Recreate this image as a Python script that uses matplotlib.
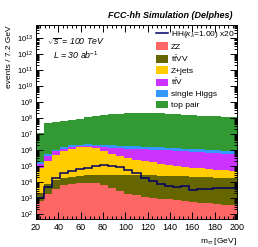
import numpy as np
import matplotlib
matplotlib.use("Agg")
import matplotlib.pyplot as plt
from matplotlib.ticker import LogLocator, MultipleLocator, LogFormatterMathtext, NullFormatter
from matplotlib.patches import Patch
from matplotlib.lines import Line2D

plt.rcParams['font.family'] = ['Liberation Sans', 'DejaVu Sans']
plt.rcParams['mathtext.fontset'] = 'custom'
plt.rcParams['mathtext.rm'] = 'Liberation Sans'
plt.rcParams['mathtext.it'] = 'Liberation Sans:italic'
plt.rcParams['mathtext.bf'] = 'Liberation Sans:bold'

# ---- data (events per 7.2 GeV bin, 20-200 GeV) ----
x_min, x_max, n_bins = 20.0, 200.0, 25
zz = [630, 1800, 4000, 6200, 7400, 8500, 9300, 9100, 6600, 4300, 2800, 1900, 1500,
      1200, 1050, 950, 830, 720, 650, 580, 510, 470, 430, 400, 370]
ttvv = [1600, 6200, 9200, 11600, 14000, 15500, 17000, 19000, 23000, 25000, 26000, 26000,
        26000, 25700, 25300, 24700, 24300, 23300, 22300, 21300, 20400, 19500, 18600, 17800, 17000]
zjets = [77000, 216000, 512000, 833000, 1.13e6, 1.46e6, 1.63e6, 1.29e6, 802000, 573000,
         388000, 288000, 224000, 177000, 144000, 116000, 95000, 81000, 68000, 59000,
         52000, 46000, 41000, 37000, 33000]
ttv = [52000, 223000, 366000, 408000, 401000, 299000, 246000, 420000, 647000, 778000,
       871000, 914000, 924000, 918000, 902000, 882000, 857000, 807000, 760000, 713000,
       669000, 626000, 571000, 534000, 487000]
single_h = [38000, 116000, 180000, 363000, 401000, 460000, 439000, 501000, 659000, 615000,
            617000, 589000, 563000, 538000, 513000, 490000, 435000, 406000, 408000, 381000,
            355000, 355000, 346000, 344000, 354000]
top_pair = [1.18e7, 4.62e7, 5.51e7, 6.45e7, 7.40e7, 8.69e7, 1.08e8, 1.30e8, 1.56e8, 1.76e8,
            1.84e8, 1.93e8, 1.98e8, 2.02e8, 2.02e8, 1.98e8, 1.89e8, 1.76e8, 1.64e8, 1.53e8,
            1.43e8, 1.34e8, 1.25e8, 1.16e8, 1.09e8]
hh_x20 = [1000, 4700, 17000, 35500, 48000, 63000, 79000, 95000, 112000, 100000, 83000,
          60000, 36000, 19000, 11000, 7900, 6000, 5200, 6000, 3300, 3800, 4000, 4100, 4200, 4400]

labels = ["ZZ", r"t$\bar{\rm t}$VV", "Z+jets", r"t$\bar{\rm t}$V", "single Higgs", "top pair"]
colors = ["#ff6666", "#666600", "#ffcc00", "#cc33ff", "#3399ff", "#339933"]
series = [zz, ttvv, zjets, ttv, single_h, top_pair]

edges = np.linspace(x_min, x_max, n_bins + 1)

fig = plt.figure(figsize=(2.58, 2.47), dpi=100)
ax = fig.add_axes([36/258, 1-219/247, 201/258, 194/247])

base = np.full(n_bins, 1.0)
for vals, col in zip(series, colors):
    top = base + np.asarray(vals, dtype=float)
    ax.stairs(top, edges, baseline=base, fill=True, color=col, linewidth=0)
    base = top
ax.stairs(hh_x20, edges, baseline=None, color="#000066", linewidth=1.1)

ax.set_yscale('log')
ax.set_xlim(x_min, x_max)
ax.set_ylim(50, 6.5e13)

ax.xaxis.set_major_locator(MultipleLocator(20))
ax.xaxis.set_minor_locator(MultipleLocator(4))
ax.yaxis.set_major_locator(LogLocator(base=10, numticks=20))
ax.yaxis.set_minor_locator(LogLocator(base=10, subs=np.arange(2, 10), numticks=20))
ax.yaxis.set_major_formatter(LogFormatterMathtext())
ax.yaxis.set_minor_formatter(NullFormatter())
ax.tick_params(which='both', direction='in', top=True, right=True, width=0.7, colors='black')
ax.tick_params(which='major', length=5)
ax.tick_params(which='minor', length=2.5)
ax.tick_params(axis='x', labelsize=6.5, pad=3)
ax.tick_params(axis='y', labelsize=5.5, pad=2)
for s in ax.spines.values():
    s.set_linewidth(0.7)

ax.set_ylabel("events / 7.2 GeV", fontsize=6, ha='right', y=1.0)
ax.yaxis.set_label_coords(-0.115, 1.0)
ax.set_xlabel(r"m$_{\tau\tau}$ [GeV]", fontsize=6, ha='right', x=1.0)
ax.xaxis.set_label_coords(1.0, -0.09)

fig.text(232/258, 1-16/247, "FCC-hh Simulation (Delphes)", fontsize=6.5, fontweight='bold',
         style='italic', ha='right', va='center')
ax.text(47/258, 1-42/247, r"$\sqrt{s}$ = 100 TeV", transform=fig.transFigure,
        fontsize=6.3, style='italic', ha='left', va='center')
ax.text(53/258, 1-55/247, r"L = 30 ab$^{-1}$", transform=fig.transFigure,
        fontsize=6.3, style='italic', ha='left', va='center')

handles = [Line2D([], [], color="#000066", lw=1.1)]
handles += [Patch(facecolor=c, edgecolor='none') for c in colors]
leg_labels = [r"HH($\kappa_{\lambda}$=1.00) x20"] + labels
leg = fig.legend(handles, leg_labels, loc='upper left', bbox_to_anchor=(156/258, 1-29/247),
                 frameon=False, fontsize=6, handlelength=1.45, handleheight=1.0,
                 handletextpad=0.35, labelspacing=0.28, borderpad=0, borderaxespad=0)

fig.savefig("out.png", dpi=100)
